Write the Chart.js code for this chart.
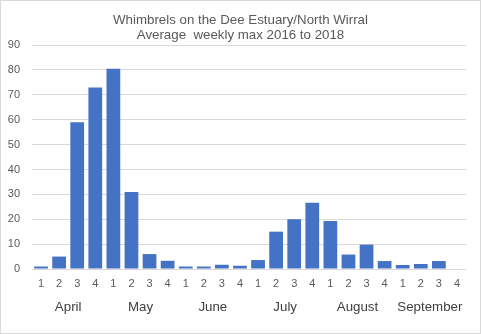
<!DOCTYPE html>
<html>
<head>
<meta charset="utf-8">
<script src="https://cdn.jsdelivr.net/npm/chart.js@4.4.1/dist/chart.umd.min.js"></script>
<style>
  html, body { margin: 0; padding: 0; background: #fff; }
  #wrap { position: relative; width: 481px; height: 334px; }
  #frame { position: absolute; left: 0; top: 0; width: 481px; height: 334px;
           box-sizing: border-box; border: 1px solid #d9d9d9; pointer-events: none; }
</style>
</head>
<body>
<div id="wrap">
  <canvas id="chart" width="481" height="334"></canvas>
  <div id="frame"></div>
</div>
<script>
// weekly categories, grouped by month
const months = ['April', 'May', 'June', 'July', 'August', 'September'];
const weekLabels = ['1', '2', '3', '4', '1', '2', '3', '4', '1', '2', '3', '4',
                    '1', '2', '3', '4', '1', '2', '3', '4', '1', '2', '3', '4'];
// average weekly max
const whimbrels = [1, 5, 59, 73, 80.5, 31, 6, 3.3, 1, 1, 1.7, 1.3,
                   3.6, 15, 20, 26.6, 19.3, 5.8, 9.8, 3.2, 1.6, 2, 3.2, 0];
const titleLines = ['Whimbrels on the Dee Estuary/North Wirral', 'Average  weekly max 2016 to 2018'];

const FONT = 'Arial, "Liberation Sans", sans-serif';

new Chart(document.getElementById('chart'), {
  type: 'bar',
  data: {
    labels: weekLabels,
    datasets: [{
      data: whimbrels,
      backgroundColor: '#4472c4',
      barPercentage: 0.76,
      categoryPercentage: 1
    }]
  },
  options: {
    responsive: false,
    animation: false,
    devicePixelRatio: 1,
    layout: { padding: 0 },
    plugins: {
      legend: { display: false },
      tooltip: { enabled: false },
      title: {
        display: true,
        text: titleLines,
        color: '#595959',
        font: { family: FONT, size: 13.3, weight: 'normal', lineHeight: 1.15 },
        padding: { top: 12.5, bottom: 2 }
      }
    },
    scales: {
      y: {
        min: 0,
        max: 90,
        ticks: { stepSize: 10, color: '#595959', padding: 12,
                 font: { family: FONT, size: 11 } },
        grid: { color: '#d9d9d9', drawTicks: false },
        border: { display: false },
        afterFit: s => { s.width = 32; }
      },
      // empty right-hand spacer so the title stays centred on the whole canvas
      yRight: {
        position: 'right',
        ticks: { display: false },
        grid: { display: false, drawTicks: false },
        border: { display: false },
        afterFit: s => { s.width = 15; }
      },
      x: {
        weight: 1,
        ticks: { color: '#595959', padding: 8, maxRotation: 0, autoSkip: false,
                 font: { family: FONT, size: 11 } },
        grid: { display: false, drawTicks: false },
        border: { display: false },
        afterFit: s => { s.height = 21; }
      },
      x2: {
        type: 'category',
        labels: months,
        position: 'bottom',
        weight: 2,
        offset: true,
        ticks: { color: '#404040', padding: 9, maxRotation: 0, autoSkip: false,
                 font: { family: FONT, size: 13.3 } },
        grid: { display: false, drawTicks: false },
        border: { display: false },
        afterFit: s => { s.height = 44; }
      }
    }
  }
});
</script>
</body>
</html>
